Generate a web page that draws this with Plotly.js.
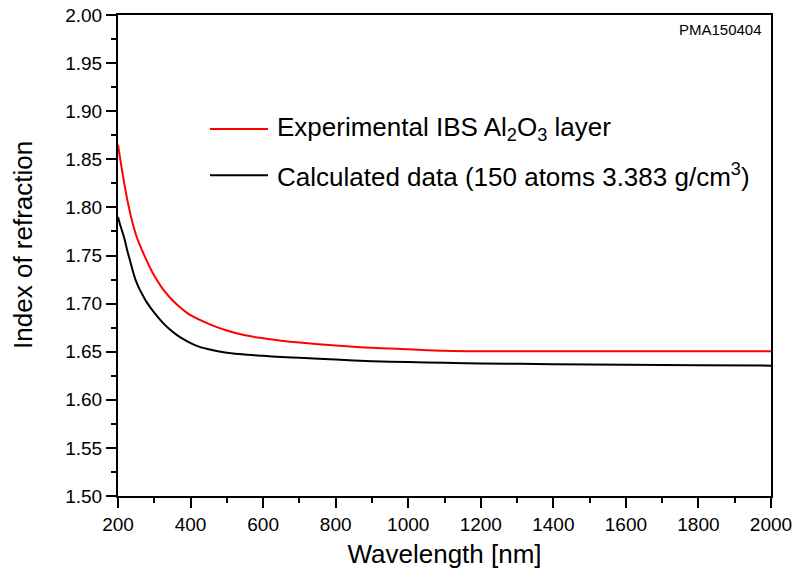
<!DOCTYPE html>
<html>
<head>
<meta charset="utf-8">
<script src="https://cdn.plot.ly/plotly-3.0.1.min.js"></script>
<style>
  html, body { margin: 0; padding: 0; background: #fff; }
  #chart { width: 795px; height: 578px; }
</style>
</head>
<body>
<div id="chart"></div>
<script>
// Wavelength (nm) and refractive index readings
const expWavelength = [200, 210, 220, 230, 240, 250, 260, 275, 290, 300, 325, 350, 375, 400, 450, 500, 550, 600, 650, 700, 800, 900, 1000, 1100, 1200, 1400, 1600, 1800, 2000];
const expIndex      = [1.865, 1.841, 1.819, 1.800, 1.784, 1.771, 1.761, 1.748, 1.736, 1.729, 1.7145, 1.7035, 1.695, 1.688, 1.679, 1.672, 1.667, 1.664, 1.6615, 1.6595, 1.6565, 1.654, 1.6525, 1.651, 1.6505, 1.6505, 1.6505, 1.6505, 1.6505];

const calcWavelength = [200, 205, 210, 215, 220, 225, 230, 235, 240, 250, 260, 270, 280, 290, 300, 320, 340, 360, 380, 400, 425, 450, 475, 500, 550, 600, 650, 700, 800, 900, 1000, 1100, 1200, 1400, 1600, 1800, 2000];
const calcIndex      = [1.790, 1.783, 1.777, 1.771, 1.764, 1.756, 1.749, 1.742, 1.735, 1.723, 1.7145, 1.7075, 1.701, 1.6955, 1.6905, 1.6815, 1.674, 1.668, 1.663, 1.659, 1.655, 1.6525, 1.6505, 1.649, 1.647, 1.6457, 1.6446, 1.6436, 1.6418, 1.6402, 1.6392, 1.6384, 1.6378, 1.637, 1.6364, 1.6359, 1.6355];

const seriesNames = ["Experimental IBS Al<sub>2</sub>O<sub>3</sub> layer", "Calculated data (150 atoms 3.383 g/cm<sup>3</sup>)"];
const seriesColors = ["#ff0000", "#000000"];
const sampleId = "PMA150404";
const xTitle = "Wavelength [nm]";
const yTitle = "Index of refraction";

const FONT = "Liberation Sans, Arial, sans-serif";

const traces = [
  { x: expWavelength, y: expIndex, type: "scatter", mode: "lines", name: seriesNames[0],
    line: { color: seriesColors[0], width: 2, shape: "spline", smoothing: 0.8 }, showlegend: false },
  { x: calcWavelength, y: calcIndex, type: "scatter", mode: "lines", name: seriesNames[1],
    line: { color: seriesColors[1], width: 2, shape: "spline", smoothing: 0.8 }, showlegend: false }
];

// legend drawn as shapes + annotations in paper coords
const legX0 = 0.1409, legX1 = 0.2297, legTx = 0.2404;
const legY = [0.763, 0.667];

const shapes = legY.map((yy, i) => ({
  type: "line", xref: "paper", yref: "paper", x0: legX0, x1: legX1, y0: yy, y1: yy,
  line: { color: seriesColors[i], width: 2 }
}));

const annotations = legY.map((yy, i) => ({
  xref: "paper", yref: "paper", x: legTx, y: yy, xanchor: "left", yanchor: "middle",
  text: seriesNames[i], showarrow: false, font: { family: FONT, size: 26, color: "#000" }
}));
annotations.push({
  xref: "paper", yref: "paper", x: 0.99, y: 0.97, xanchor: "right", yanchor: "middle",
  text: sampleId, showarrow: false, font: { family: FONT, size: 15, color: "#000" }
});
annotations.push({
  xref: "paper", yref: "paper", x: -0.1455, y: 0.522, xanchor: "center", yanchor: "middle",
  text: yTitle, textangle: -90, showarrow: false, font: { family: FONT, size: 26, color: "#000" }
});

const layout = {
  width: 795, height: 578,
  margin: { l: 118, r: 24, t: 15, b: 82 },
  paper_bgcolor: "#fff", plot_bgcolor: "#fff",
  font: { family: FONT, color: "#000" },
  xaxis: {
    range: [200, 2000], dtick: 200, tick0: 200,
    ticks: "outside", ticklen: 10, tickwidth: 2, tickcolor: "#000",
    minor: { dtick: 100, ticks: "outside", ticklen: 5, tickwidth: 2, tickcolor: "#000" },
    showline: true, linewidth: 2, linecolor: "#000", mirror: true,
    showgrid: false, zeroline: false,
    tickfont: { family: FONT, size: 19, color: "#000" },
    title: { text: xTitle, font: { family: FONT, size: 26, color: "#000" }, standoff: 11 }
  },
  yaxis: {
    range: [1.5, 2.0], dtick: 0.05, tick0: 1.5, tickformat: ".2f",
    ticks: "outside", ticklen: 10, tickwidth: 2, tickcolor: "#000",
    minor: { dtick: 0.025, ticks: "outside", ticklen: 5, tickwidth: 2, tickcolor: "#000" },
    showline: true, linewidth: 2, linecolor: "#000", mirror: true,
    showgrid: false, zeroline: false,
    tickfont: { family: FONT, size: 19, color: "#000" }
  },
  shapes: shapes,
  annotations: annotations,
  showlegend: false
};

Plotly.newPlot("chart", traces, layout, { displayModeBar: false, staticPlot: true });
</script>
</body>
</html>
